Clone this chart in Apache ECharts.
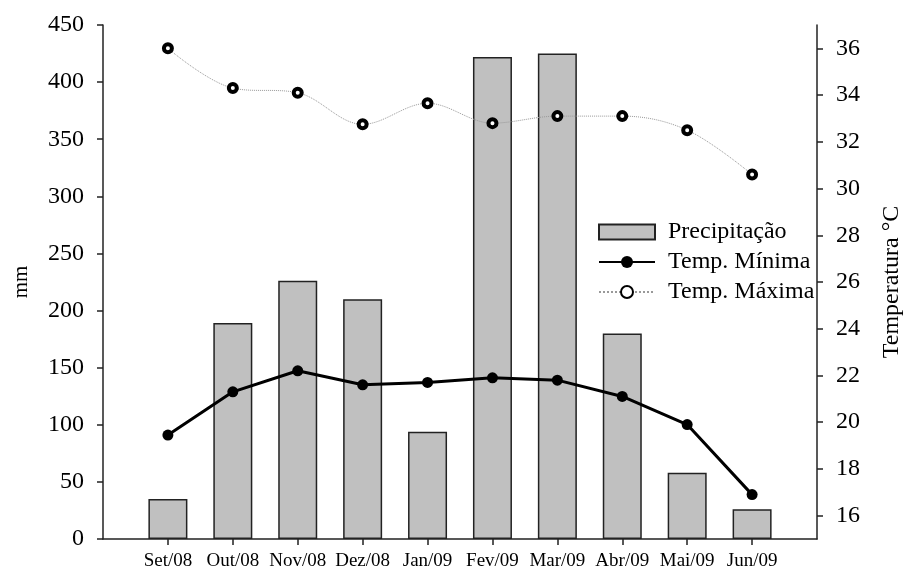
<!DOCTYPE html>
<html>
<head>
<meta charset="utf-8">
<script src="https://cdn.jsdelivr.net/npm/echarts@6/dist/echarts.min.js"></script>
<style>
  html, body { margin: 0; padding: 0; background: #fff; }
  #chart { width: 904px; height: 575px; }
</style>
</head>
<body>
<div id="chart"></div>
<script>
// meses
const meses = ['Set/08', 'Out/08', 'Nov/08', 'Dez/08', 'Jan/09', 'Fev/09', 'Mar/09', 'Abr/09', 'Mai/09', 'Jun/09'];
const precipitacao = [35, 189, 226, 210, 94, 422, 425, 180, 58, 26];
const tempMinima = [19.45, 21.3, 22.2, 21.6, 21.7, 21.9, 21.8, 21.1, 19.9, 16.9];
const tempMaxima = [36.0, 34.3, 34.1, 32.75, 33.65, 32.8, 33.1, 33.1, 32.5, 30.6];
const mmTicks = [0, 50, 100, 150, 200, 250, 300, 350, 400, 450];
const tempTicks = [16, 18, 20, 22, 24, 26, 28, 30, 32, 34, 36];

const posicoes = meses.map((m, i) => i + 1);
const pares = arr => arr.map((v, i) => [i + 1, v]);

const fonte = 'Liberation Serif';
const eixoCor = '#222';

const myChart = echarts.init(document.getElementById('chart'));

const option = {
    backgroundColor: '#fff',
    animation: false,
    grid: { left: 103, right: 87, top: 25, bottom: 36, outerBoundsMode: 'none' },
    legend: {
        orient: 'vertical',
        left: 593,
        top: 215,
        itemWidth: 56,
        itemHeight: 15,
        itemGap: 6,
        textStyle: { fontFamily: fonte, fontSize: 24, lineHeight: 24, color: '#000', padding: [0, 0, 0, 8] },
        data: [
            { name: 'Precipitação', icon: 'rect' },
            { name: 'Temp. Mínima' },
            { name: 'Temp. Máxima' }
        ]
    },
    xAxis: {
        type: 'value',
        min: 0,
        max: 11,
        splitLine: { show: false },
        axisLine: { lineStyle: { color: eixoCor, width: 1.5 } },
        axisTick: { customValues: posicoes, length: 6, lineStyle: { color: eixoCor, width: 1.5 } },
        axisLabel: {
            customValues: posicoes,
            formatter: v => meses[v - 1] || '',
            fontFamily: fonte, fontSize: 19, color: '#000', margin: 13
        }
    },
    yAxis: [{
        type: 'value',
        min: 0,
        max: 450,
        interval: 50,
        name: 'mm',
        nameLocation: 'middle',
        nameRotate: 90,
        nameGap: 71,
        nameTextStyle: { fontFamily: fonte, fontSize: 21, color: '#000' },
        splitLine: { show: false },
        axisLine: { show: true, lineStyle: { color: eixoCor, width: 1.5 } },
        axisTick: { show: true, customValues: mmTicks, length: 6, lineStyle: { color: eixoCor, width: 1.5 } },
        axisLabel: { customValues: mmTicks, fontFamily: fonte, fontSize: 24, color: '#000', margin: 19 }
    }, {
        type: 'value',
        position: 'right',
        min: 15,
        max: 37,
        name: 'Temperatura °C',
        nameLocation: 'middle',
        nameRotate: 90,
        nameGap: 63,
        nameTextStyle: { fontFamily: fonte, fontSize: 24, color: '#000' },
        splitLine: { show: false },
        axisLine: { show: true, lineStyle: { color: eixoCor, width: 1.5 } },
        axisTick: { show: true, customValues: tempTicks, length: 6, lineStyle: { color: eixoCor, width: 1.5 } },
        axisLabel: { customValues: tempTicks, fontFamily: fonte, fontSize: 24, color: '#000', margin: 19 }
    }],
    series: [{
        name: 'Precipitação',
        type: 'bar',
        yAxisIndex: 0,
        barWidth: 39,
        itemStyle: { color: '#c0c0c0', borderColor: '#222', borderWidth: 1.5 },
        data: pares(precipitacao)
    }, {
        name: 'Temp. Mínima',
        type: 'line',
        yAxisIndex: 1,
        symbol: 'circle',
        symbolSize: 11,
        lineStyle: { color: '#000', width: 3 },
        itemStyle: { color: '#000' },
        data: pares(tempMinima)
    }, {
        name: 'Temp. Máxima',
        type: 'line',
        yAxisIndex: 1,
        smooth: 0.35,
        symbol: 'circle',
        symbolSize: 8,
        lineStyle: { color: '#999', width: 1, type: 'dotted' },
        itemStyle: { color: '#fff', borderColor: '#000', borderWidth: 4 },
        data: pares(tempMaxima)
    }]
};

myChart.setOption(option, true);
window.addEventListener('resize', function () {
    myChart.resize();
});
</script>
</body>
</html>
